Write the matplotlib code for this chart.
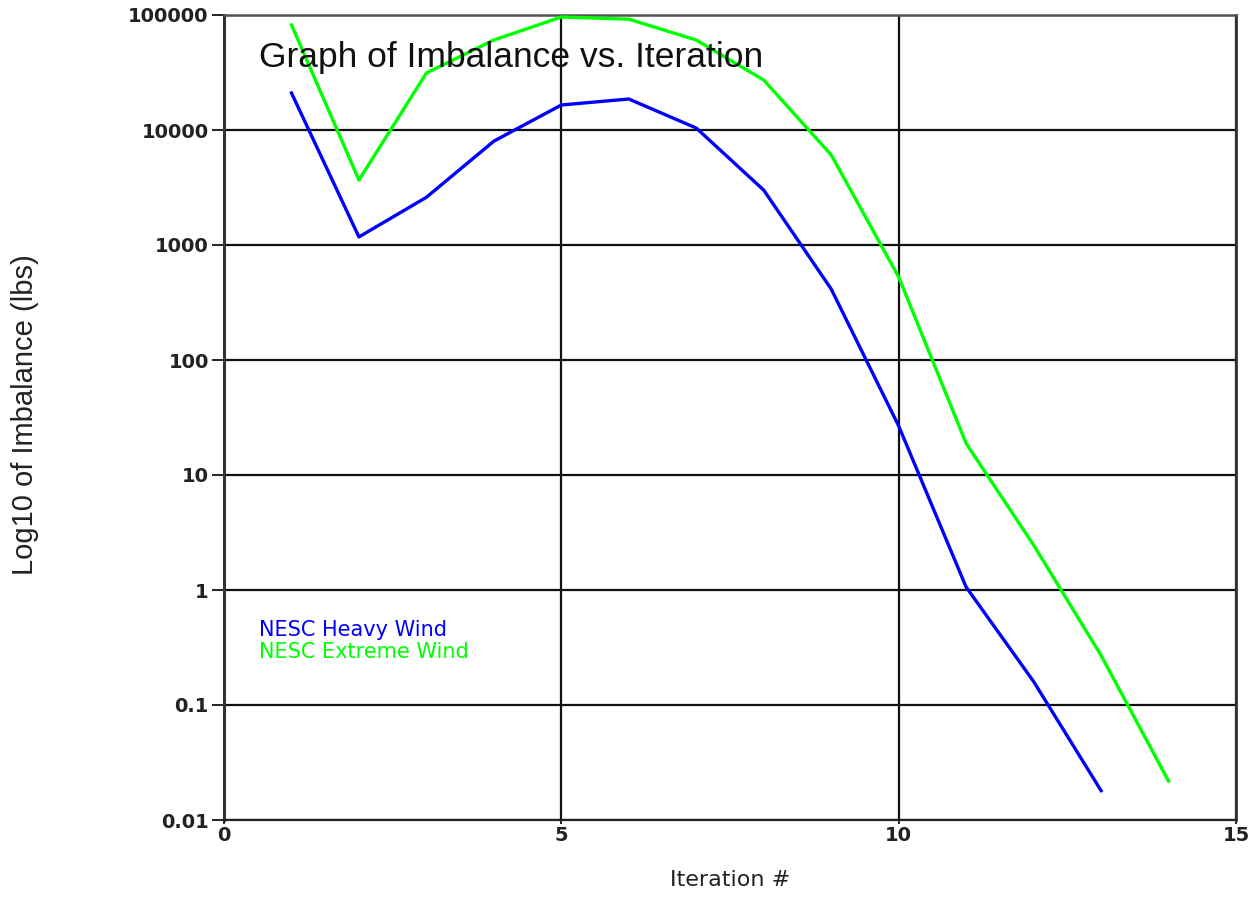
import matplotlib
matplotlib.use("Agg")
import matplotlib.pyplot as plt
from matplotlib.ticker import FixedLocator, FixedFormatter

iterations_heavy = [1, 2, 3, 4, 5, 6, 7, 8, 9, 10, 11, 12, 13]
imbalance_heavy = [21000, 1175, 2600, 8000, 16500, 18600, 10400, 3000, 414, 26.7, 1.06, 0.16, 0.018]

iterations_extreme = [1, 2, 3, 4, 5, 6, 7, 8, 9, 10, 11, 12, 13, 14]
imbalance_extreme = [82000, 3670, 31300, 60600, 96000, 92000, 60600, 27200, 6070, 527, 18.8, 2.46, 0.27, 0.0218]

series_names = ["NESC Heavy Wind", "NESC Extreme Wind"]
series_colors = ["#0000ff", "#00ff00"]

x_ticks = [0, 5, 10, 15]
x_tick_labels = ["0", "5", "10", "15"]
y_ticks = [0.01, 0.1, 1, 10, 100, 1000, 10000, 100000]
y_tick_labels = ["0.01", "0.1", "1", "10", "100", "1000", "10000", "100000"]

title_text = "Graph of Imbalance vs. Iteration"
x_label = "Iteration #"
y_label = "Log10 of Imbalance (lbs)"

W, H = 1251, 916
fig = plt.figure(figsize=(W / 100, H / 100), dpi=100)
ax = fig.add_axes([224 / W, (H - 820) / H, 1012 / W, 805 / H])

ax.set_yscale("log")
ax.set_xlim(0, 15)
ax.set_ylim(0.01, 100000)

ax.plot(iterations_heavy, imbalance_heavy, color=series_colors[0], lw=2.4, zorder=3)
ax.plot(iterations_extreme, imbalance_extreme, color=series_colors[1], lw=2.4, zorder=3)

ax.xaxis.set_major_locator(FixedLocator(x_ticks))
ax.xaxis.set_major_formatter(FixedFormatter(x_tick_labels))
ax.yaxis.set_major_locator(FixedLocator(y_ticks))
ax.yaxis.set_major_formatter(FixedFormatter(y_tick_labels))
ax.yaxis.set_minor_locator(FixedLocator([]))

ax.grid(True, which="major", color="#111111", lw=1.6)
ax.set_axisbelow(True)

ax.tick_params(axis="y", which="major", direction="out", length=9, width=1.4,
               color="#222222", labelsize=14, labelcolor="#222222", pad=2)
ax.tick_params(axis="x", which="major", direction="out", length=3, width=1.4,
               color="#222222", labelsize=14, labelcolor="#222222", pad=1)
for lab in ax.get_xticklabels() + ax.get_yticklabels():
    lab.set_family("DejaVu Sans")
    lab.set_fontweight("semibold")

ax.spines["left"].set_color("#333333")
ax.spines["left"].set_linewidth(2.2)
ax.spines["bottom"].set_color("#222222")
ax.spines["bottom"].set_linewidth(1.6)
ax.spines["top"].set_color("#555555")
ax.spines["top"].set_linewidth(1.8)
ax.spines["right"].set_color("#333333")
ax.spines["right"].set_linewidth(2.0)

ax.text((259 - 224) / 1012, (820 - 57) / 805, title_text, transform=ax.transAxes,
        fontsize=25.5, family="Liberation Sans", color="#111111", ha="left", va="center",
        zorder=5)

ax.text((259 - 224) / 1012, (820 - 630) / 805, series_names[0], transform=ax.transAxes,
        fontsize=15, family="DejaVu Sans", color=series_colors[0], ha="left", va="center")
ax.text((259 - 224) / 1012, (820 - 652) / 805, series_names[1], transform=ax.transAxes,
        fontsize=15, family="DejaVu Sans", color=series_colors[1], ha="left", va="center")

fig.text(730 / W, 1 - 880 / H, x_label, fontsize=16, family="DejaVu Sans",
         color="#222222", ha="center", va="center")
fig.text(25 / W, 1 - 415 / H, y_label, fontsize=21, family="Liberation Sans",
         color="#222222", ha="center", va="center", rotation=90)

fig.savefig("out.png", dpi=100)
